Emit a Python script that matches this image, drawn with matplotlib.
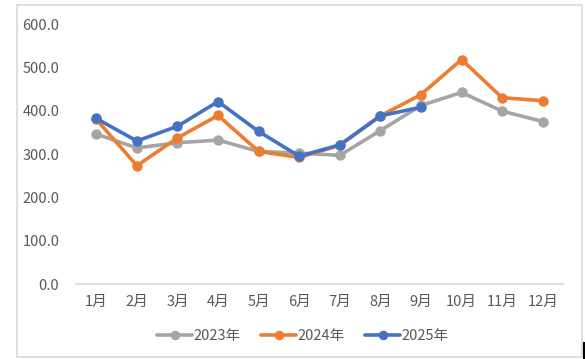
import matplotlib
matplotlib.use("Agg")
import matplotlib.pyplot as plt
from matplotlib.patches import Rectangle
from matplotlib.lines import Line2D

plt.rcParams['font.family'] = ['Noto Sans CJK SC', 'DejaVu Sans']

months = ["1月", "2月", "3月", "4月", "5月", "6月", "7月", "8月", "9月", "10月", "11月", "12月"]
s2023 = [346, 314, 326, 332, 306, 302, 297, 354, 412, 442, 399, 375]
s2024 = [380, 273, 337, 389, 306, 292, 320, 388, 437, 518, 430, 423]
s2025 = [382, 330, 364, 421, 352, 295, 321, 388, 408]
series = [("2023年", s2023, "#A5A5A5"), ("2024年", s2024, "#ED7D31"), ("2025年", s2025, "#4472C4")]
yticks = [0, 100, 200, 300, 400, 500, 600]

W, H = 585, 359
fig = plt.figure(figsize=(W / 100, H / 100), dpi=100)
fig.patch.set_facecolor("white")
fig.add_artist(Rectangle((17 / W, 1 - 357 / H), (582 - 17) / W, (357 - 4.5) / H,
                         transform=fig.transFigure, fill=False, edgecolor="#D9D9D9", lw=1.2))
fig.add_artist(Line2D([583.5 / W, 583.5 / W], [1 - 358 / H, 1 - 343 / H],
                      transform=fig.transFigure, color="black", lw=1.5))

ax = fig.add_axes([76 / W, 1 - 284 / H, (563 - 76) / W, (284 - 24) / H])
x = list(range(len(months)))
for name, vals, col in series:
    ax.plot(x[:len(vals)], vals, color=col, lw=2.6, marker="o", ms=6.5, label=name,
            solid_capstyle="round", solid_joinstyle="round")

ax.set_xlim(-0.5, 11.5)
ax.set_ylim(0, 600)
ax.set_xticks(x)
ax.set_xticklabels(months)
ax.set_yticks(yticks)
ax.set_yticklabels([f"{v:.1f}" for v in yticks])
for s in ["top", "right", "left"]:
    ax.spines[s].set_visible(False)
ax.spines["bottom"].set_color("#D9D9D9")
ax.spines["bottom"].set_linewidth(1.2)
ax.tick_params(axis="both", length=0, colors="#595959", labelsize=10.5)
ax.tick_params(axis="y", pad=12)
ax.tick_params(axis="x", pad=8)

handles, labels = ax.get_legend_handles_labels()
fig.legend(handles, labels, loc="center", bbox_to_anchor=(303 / W, 1 - 336 / H), ncol=3,
           frameon=False, fontsize=10.5, labelcolor="#595959", handlelength=2.4,
           handletextpad=0.1, columnspacing=1.4, markerscale=0.9)

fig.savefig("out.png", dpi=100)
